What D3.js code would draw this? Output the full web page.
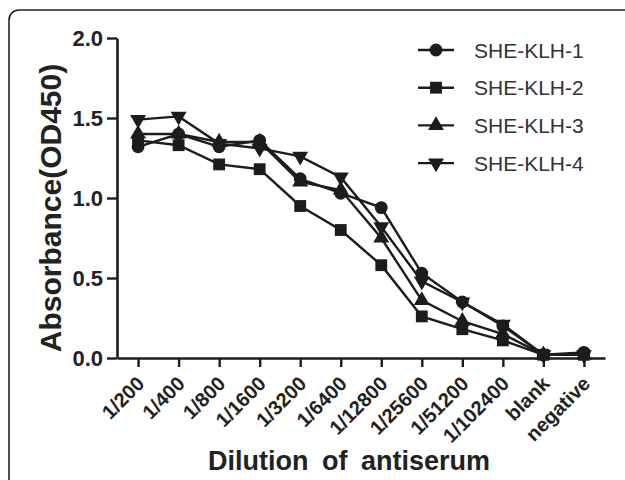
<!doctype html>
<html>
<head>
<style>
    body { margin: 0; background: #fff; }
    text { font-family: "Liberation Sans", Arial, sans-serif; }
</style>
<script src="https://cdn.jsdelivr.net/npm/d3@7"></script>
</head>
<body>
<svg width="625" height="480"></svg>
<script>
    var categories = ["1/200", "1/400", "1/800", "1/1600", "1/3200", "1/6400", "1/12800",
                      "1/25600", "1/51200", "1/102400", "blank", "negative"];
    var seriesNames = ["SHE-KLH-1", "SHE-KLH-2", "SHE-KLH-3", "SHE-KLH-4"];
    var klh1 = [1.32, 1.40, 1.32, 1.36, 1.12, 1.03, 0.94, 0.53, 0.35, 0.20, 0.02, 0.035];
    var klh2 = [1.36, 1.33, 1.21, 1.18, 0.95, 0.80, 0.58, 0.26, 0.18, 0.11, 0.02, 0.02];
    var klh3 = [1.40, 1.40, 1.35, 1.35, 1.10, 1.05, 0.75, 0.36, 0.23, 0.15, 0.02, 0.02];
    var klh4 = [1.49, 1.51, 1.34, 1.31, 1.26, 1.13, 0.82, 0.48, 0.35, 0.21, 0.02, 0.02];
    var yTicks = [0, 0.5, 1.0, 1.5, 2.0];

    var series = [klh1, klh2, klh3, klh4];
    var symbols = [
        {type: d3.symbolCircle, size: 130, rot: 0},
        {type: d3.symbolSquare, size: 140, rot: 0},
        {type: d3.symbolTriangle, size: 110, rot: 0},
        {type: d3.symbolTriangle, size: 110, rot: 180}
    ];

    var svg = d3.select("svg");
    var ink = "#1c1c1c";

    // frame (runs off the right and bottom)
    svg.append("rect")
       .attr("x", 9).attr("y", 10)
       .attr("width", 640).attr("height", 500)
       .attr("rx", 10)
       .attr("fill", "none")
       .attr("stroke", "#222")
       .attr("stroke-width", 1.6);

    var x = d3.scalePoint().domain(categories).range([117, 605]).padding(0.52),
        y = d3.scaleLinear().domain([0, 2]).range([358, 38]);

    // y axis
    var yAxis = svg.append("g")
       .attr("transform", "translate(117,0)")
       .call(d3.axisLeft(y).tickValues(yTicks).tickFormat(d3.format(".1f"))
             .tickSize(10).tickSizeOuter(0).tickPadding(4));
    yAxis.select(".domain").attr("stroke", ink).attr("stroke-width", 2.6);
    yAxis.selectAll(".tick line").attr("stroke", ink).attr("stroke-width", 2.4);
    yAxis.selectAll(".tick text")
         .attr("font-size", 22).attr("font-weight", "bold").attr("fill", "#222")
         .attr("font-family", "Liberation Sans, Arial, sans-serif");

    // x axis
    var xAxis = svg.append("g")
       .attr("transform", "translate(0,358)")
       .call(d3.axisBottom(x).tickSize(9).tickSizeOuter(0));
    xAxis.select(".domain").attr("stroke", ink).attr("stroke-width", 2.6);
    xAxis.selectAll(".tick line").attr("stroke", ink).attr("stroke-width", 2.4);
    xAxis.selectAll(".tick text")
         .attr("font-size", 20).attr("font-weight", "bold").attr("fill", "#222")
         .attr("font-family", "Liberation Sans, Arial, sans-serif")
         .attr("text-anchor", "end")
         .attr("dy", null)
         .attr("y", 0)
         .attr("transform", "translate(7,27) rotate(-45)");

    // axis titles
    svg.append("text")
       .attr("transform", "translate(61,208) rotate(-90)")
       .attr("text-anchor", "middle")
       .attr("font-size", 30).attr("font-weight", "bold").attr("fill", "#222")
       .text("Absorbance(OD450)");

    svg.append("text")
       .attr("x", 349).attr("y", 470)
       .attr("text-anchor", "middle")
       .attr("font-size", 27).attr("font-weight", "bold").attr("fill", "#222")
       .attr("word-spacing", 6)
       .text("Dilution of antiserum");

    // lines + markers
    var line = d3.line()
        .x(function(d, i) { return x(categories[i]); })
        .y(function(d) { return y(d); });

    series.forEach(function(s, k) {
        svg.append("path")
           .datum(s)
           .attr("d", line)
           .attr("fill", "none")
           .attr("stroke", ink)
           .attr("stroke-width", 2.4);
    });
    series.forEach(function(s, k) {
        var sym = symbols[k];
        svg.append("g").selectAll("path")
           .data(s)
           .enter().append("path")
           .attr("d", d3.symbol().type(sym.type).size(sym.size))
           .attr("transform", function(d, i) {
               return "translate(" + x(categories[i]) + "," + y(d) + ") rotate(" + sym.rot + ")";
           })
           .attr("fill", ink);
    });

    // legend
    var legend = svg.append("g");
    seriesNames.forEach(function(name, k) {
        var ly = 50 + k * 37.7;
        var sym = symbols[k];
        legend.append("line")
              .attr("x1", 418).attr("x2", 454)
              .attr("y1", ly).attr("y2", ly)
              .attr("stroke", ink).attr("stroke-width", 2.4);
        legend.append("path")
              .attr("d", d3.symbol().type(sym.type).size(sym.size))
              .attr("transform", "translate(436," + ly + ") rotate(" + sym.rot + ")")
              .attr("fill", ink);
        legend.append("text")
              .attr("x", 474).attr("y", ly + 7.5)
              .attr("font-size", 21).attr("fill", "#333")
              .text(name);
    });
</script>
</body>
</html>
